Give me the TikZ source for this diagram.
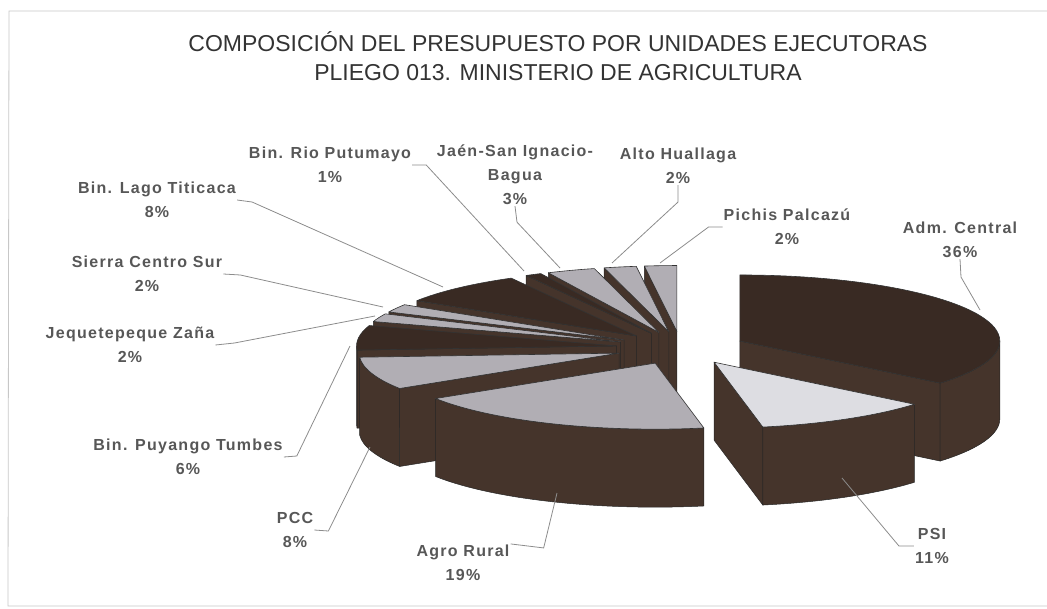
\documentclass[tikz,border=0pt]{standalone}
\usepackage{fontspec}
\setmainfont{Liberation Sans}
\newfontfamily\labelfont[LetterSpace=8]{Liberation Sans}
\usetikzlibrary{calc}
\definecolor{wallbrown}{HTML}{45342B}
\definecolor{topdark}{HTML}{392A23}
\definecolor{topgrey}{HTML}{B1AEB4}
\definecolor{toplight}{HTML}{DDDDE2}
\definecolor{inkgrey}{HTML}{575757}
\tikzset{%
  wall/.style={fill=wallbrown, draw=black!85, line width=0.5pt, line join=round},
  top/.style={draw=black!80, line width=0.6pt, line join=round},
  slice label/.style={font=\labelfont\bfseries\fontsize{16}{24}\selectfont, text=inkgrey, align=center, inner sep=1pt},
  chart title/.style={font=\fontsize{23}{29}\selectfont, text=black!80, align=center},
  leader/.style={draw=black!45, line width=0.8pt},
  frame/.style={draw=black!22, line width=0.8pt},
}
% one exploded slice: name, from, to, colour of its top
\newcommand{\pieslice}[4]{%
  \pgfmathsetmacro{\slicemid}{(#2+#3)/2}
  \coordinate (#1) at ($(centre)+(\slicemid:65 and 16.5)$);
  \pgfmathtruncatemacro{\seefrom}{cos(#2)<0}
  \pgfmathtruncatemacro{\seeto}{cos(#3)>0}
  \pgfmathsetmacro{\rimfrom}{max(#2,0)}
  \pgfmathsetmacro{\rimto}{min(#3,180)}
  \pgfmathtruncatemacro{\seerim}{\rimto>\rimfrom}
  \ifnum\seefrom=1 \path[wall] (#1) -- ++(#2:260 and 66) -- ++(0,78) -- ($(#1)+(0,78)$) -- cycle;\fi
  \ifnum\seeto=1 \path[wall] (#1) -- ++(#3:260 and 66) -- ++(0,78) -- ($(#1)+(0,78)$) -- cycle;\fi
  \ifnum\seerim=1 \path[wall] ($(#1)+(\rimfrom:260 and 66)$) arc[start angle=\rimfrom, end angle=\rimto, x radius=260, y radius=66] -- ++(0,78) arc[start angle=\rimto, end angle=\rimfrom, x radius=260, y radius=66] -- cycle;\fi
  \path[top, fill=#4] (#1) -- ++(#2:260 and 66) arc[start angle=#2, end angle=#3, x radius=260, y radius=66] -- cycle;
}

\begin{document}
\begin{tikzpicture}[x=1pt, y=-1pt]
  \useasboundingbox (0,0) rectangle (1047,608);
  \draw[frame] (1047,11) -- (9,11) -- (8,606) -- (1047,606);

  \node[chart title] (title) at (558,56) {COMPOSICIÓN DEL PRESUPUESTO POR UNIDADES EJECUTORAS\\PLIEGO 013. MINISTERIO DE AGRICULTURA};

  \coordinate (centre) at (681,348);
  % back slices first
  \foreach \name/\from/\to/\look in {
      pichis/262.8/270/topgrey, alto/255.6/262.8/topgrey, jaen/244.8/255.6/topgrey,
      putumayo/241.2/244.8/topdark, lago/212.4/241.2/topdark, sierra/205.2/212.4/topgrey,
      adm/-90/39.6/topdark, jequetepeque/198/205.2/topgrey, puyango/176.4/198/topdark,
      pcc/147.6/176.4/topgrey, psi/39.6/79.2/toplight, agro/79.2/147.6/topgrey}
    \pieslice{\name}{\from}{\to}{\look};

  \foreach \name/\x/\y/\txt in {
      putumayo/330/165/{Bin. Rio Putumayo\\1\%},
      jaen/515/175/{Jaén-San Ignacio-\\Bagua\\3\%},
      alto/678/166/{Alto Huallaga\\2\%},
      pichis/787/227/{Pichis Palcazú\\2\%},
      adm/960/240/{Adm. Central\\36\%},
      lago/157/200/{Bin. Lago Titicaca\\8\%},
      sierra/147/274/{Sierra Centro Sur\\2\%},
      jequetepeque/130/345/{Jequetepeque Zaña\\2\%},
      puyango/188/457/{Bin. Puyango Tumbes\\6\%},
      pcc/295/530/{PCC\\8\%},
      agro/463/563/{Agro Rural\\19\%},
      psi/932/546/{PSI\\11\%}}
    \node[slice label] (\name lbl) at (\x,\y) {\txt};

  \foreach \name/\side/\dx/\dy/\ex/\ey in {
      putumayo/east/14/0/524/271, jaen/south/2/16/560/268,
      alto/south/0/17/612/263, pichis/west/-14/0/660/263,
      adm/south/1/18/980/310, lago/east/15/2/443/287,
      sierra/east/17/1/383/307, jequetepeque/east/19/-2/375/316,
      puyango/east/13/-1/350/346, pcc/east/14/1/370/447,
      agro/north east/33/4/557/493, psi/west/-15/0/842/478}
    {
    \coordinate (\name pt) at (\ex,\ey);
    \draw[leader] (\name lbl.\side) -- ++(\dx,\dy) -- (\name pt);
    }
\end{tikzpicture}
\end{document}
